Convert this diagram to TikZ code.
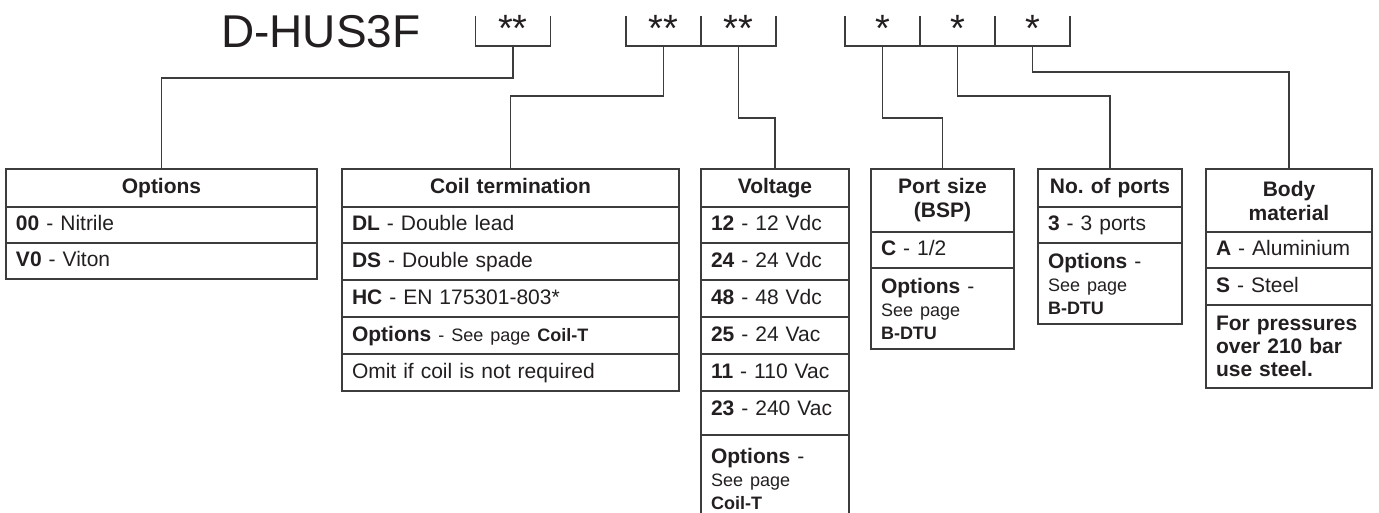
\documentclass[tikz,border=0pt]{standalone}
\usepackage{fontspec}
\setmainfont{Liberation Sans}
\usetikzlibrary{positioning}

\definecolor{ink}{HTML}{231F20}
\definecolor{rule}{HTML}{3C3C3C}

% smaller type for the page references
\newcommand{\refsize}[1]{{\fontsize{18}{23}\selectfont #1}}

\begin{document}
\begin{tikzpicture}[
x=1pt, y=-1pt,
every node/.style={text=ink, font=\fontsize{21}{23}\selectfont},
code cell/.style={minimum width=75pt, minimum height=30pt, inner sep=0pt, outer sep=0pt, text height=26pt, text depth=4pt, font=\fontsize{38}{38}\selectfont},
bracket/.style={draw=rule, line width=1.5pt},
link/.style={draw=rule, line width=1.5pt},
cell/.style={draw=rule, line width=1.5pt, outer sep=0pt, inner xsep=10pt, inner ysep=0pt, text width=#1, align=left},
head/.style={cell=#1, align=center, font=\bfseries\fontsize{21}{24}\selectfont},
one line/.style={minimum height=#1, text height=15pt, text depth=4pt},
lines/.style={minimum height=#1},
]
\useasboundingbox (0,0) rectangle (1379,513);
\clip (0,0) rectangle (1379,513);

% Part number and code brackets
\node[font=\fontsize{46}{46}\selectfont, inner sep=0pt, anchor=base west] (title) at (221,48) {D-HUS3F};

\node[code cell] (c1) at (513,31) {**};
\node[code cell] (c2) at (663.5,31) {**};
\node[code cell, right=0pt of c2] (c3) {**};
\node[code cell] (c4) at (882.5,31) {*};
\node[code cell, right=0pt of c4] (c5) {*};
\node[code cell, right=0pt of c5] (c6) {*};

\draw[bracket] (c1.north west) -- (c1.south west) -- (c1.south east) -- (c1.north east);
\draw[bracket] (c2.north west) -- (c2.south west) -- (c2.south east) -- (c2.north east);
\draw[bracket] (c3.north west) -- (c3.south west) -- (c3.south east) -- (c3.north east);
\draw[bracket] (c4.north west) -- (c4.south west) -- (c4.south east) -- (c4.north east);
\draw[bracket] (c5.north west) -- (c5.south west) -- (c5.south east) -- (c5.north east);
\draw[bracket] (c6.north west) -- (c6.south west) -- (c6.south east) -- (c6.north east);

% Options
\node[head=291pt, one line=38pt, anchor=north] (opt) at (161.5,169) {Options};
\node[cell=291pt, one line=36pt, below=0pt of opt] (opt1) {\textbf{00} - Nitrile};
\node[cell=291pt, one line=36pt, below=0pt of opt1] (opt2) {\textbf{V0} - Viton};

% Coil termination
\node[head=317pt, one line=38pt, anchor=north] (coil) at (510.5,169) {Coil termination};
\node[cell=317pt, one line=36pt, below=0pt of coil] (coil1) {\textbf{DL} - Double lead};
\node[cell=317pt, one line=37pt, below=0pt of coil1] (coil2) {\textbf{DS} - Double spade};
\node[cell=317pt, one line=37pt, below=0pt of coil2] (coil3) {\textbf{HC} - EN 175301-803*};
\node[cell=317pt, one line=37pt, below=0pt of coil3] (coil4) {\textbf{Options} \refsize{- See page \textbf{Coil-T}}};
\node[cell=317pt, one line=37pt, below=0pt of coil4] (coil5) {Omit if coil is not required};

% Voltage
\node[head=128pt, one line=38pt, anchor=north] (volt) at (775,169) {Voltage};
\node[cell=128pt, one line=36pt, below=0pt of volt] (volt1) {\textbf{12} - 12 Vdc};
\node[cell=128pt, one line=37pt, below=0pt of volt1] (volt2) {\textbf{24} - 24 Vdc};
\node[cell=128pt, one line=37pt, below=0pt of volt2] (volt3) {\textbf{48} - 48 Vdc};
\node[cell=128pt, one line=37pt, below=0pt of volt3] (volt4) {\textbf{25} - 24 Vac};
\node[cell=128pt, one line=37pt, below=0pt of volt4] (volt5) {\textbf{11} - 110 Vac};
\node[cell=128pt, one line=44pt, text depth=11pt, below=0pt of volt5] (volt6) {\textbf{23} - 240 Vac};
\node[cell=128pt, lines=88pt, below=0pt of volt6] (volt7) {\textbf{Options} -\\\refsize{See page}\\\refsize{\textbf{Coil-T}}};

% Port size
\node[head=123pt, lines=63pt, anchor=north] (port) at (942.5,169) {Port size\\(BSP)};
\node[cell=123pt, one line=36pt, below=0pt of port] (port1) {\textbf{C} - 1/2};
\node[cell=123pt, lines=81pt, below=0pt of port1] (port2) {\textbf{Options} -\\\refsize{See page}\\\refsize{\textbf{B-DTU}}};

% No. of ports
\node[head=124pt, one line=38pt, anchor=north] (nport) at (1110,169) {No.\ of ports};
\node[cell=124pt, one line=36pt, below=0pt of nport] (nport1) {\textbf{3} - 3 ports};
\node[cell=124pt, lines=81pt, below=0pt of nport1] (nport2) {\textbf{Options} -\\\refsize{See page}\\\refsize{\textbf{B-DTU}}};

% Body material
\node[head=146pt, lines=63pt, anchor=north] (body) at (1289,169) {Body\\material};
\node[cell=146pt, one line=36pt, below=0pt of body] (body1) {\textbf{A} - Aluminium};
\node[cell=146pt, one line=37pt, below=0pt of body1] (body2) {\textbf{S} - Steel};
\node[cell=146pt, lines=83pt, below=0pt of body2, font=\bfseries\fontsize{21}{23}\selectfont] (body3) {For pressures\\over 210 bar\\use steel.};

% Leader lines from the code brackets to the tables
\draw[link] (c1.south) -- ++(0,32) -| (opt.north);
\draw[link] (c2.south) -- ++(0,50) -| (coil.north);
\draw[link] (c3.south) -- ++(0,72) -| (volt.north);
\draw[link] (c4.south) -- ++(0,72) -| (port.north);
\draw[link] (c5.south) -- ++(0,50) -| (nport.north);
\draw[link] (c6.south) -- ++(0,26) -| (body.north);
\end{tikzpicture}
\end{document}
